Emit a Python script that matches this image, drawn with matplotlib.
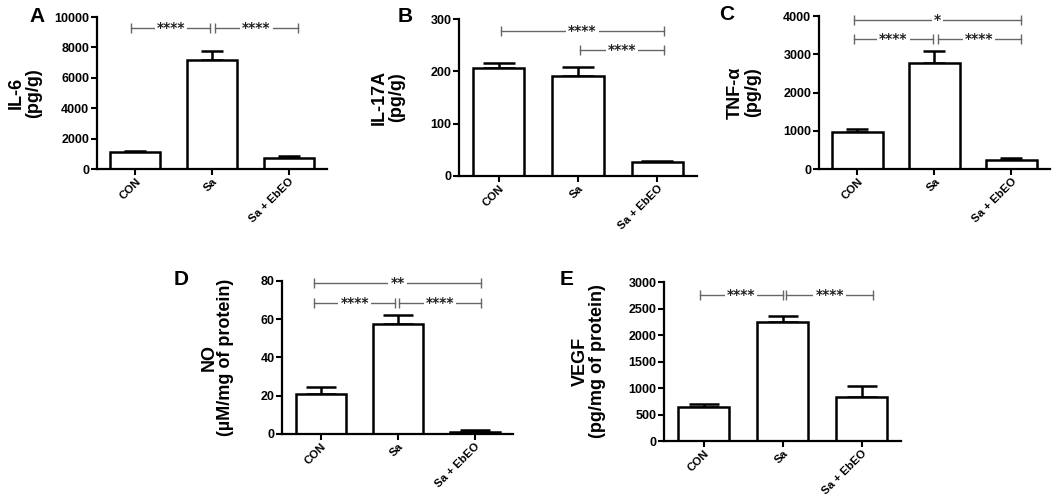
import numpy as np
import matplotlib
matplotlib.use("Agg")
import matplotlib.pyplot as plt

plt.rcParams['font.family'] = ['Liberation Sans', 'DejaVu Sans']
plt.rcParams['font.weight'] = 'bold'

groups = ["CON", "Sa", "Sa + EbEO"]

# panel data: mean and SEM
il6 = [1100, 7200, 750]
il6_err = [100, 550, 100]
il17 = [207, 191, 26]
il17_err = [9, 17, 3]
tnf = [980, 2780, 240]
tnf_err = [70, 300, 60]
no = [20.7, 57.5, 1.0]
no_err = [3.7, 4.5, 1.0]
vegf = [650, 2250, 830]
vegf_err = [40, 110, 210]

# significance brackets: (start, end, y, stars)
sig_a = [(-0.05, 0.98, 9250, "****"), (1.04, 2.12, 9250, "****")]
sig_b = [(0.03, 2.08, 277, "****"), (1.03, 2.08, 240, "****")]
sig_c = [(-0.05, 2.12, 3900, "*"), (-0.05, 0.98, 3400, "****"), (1.04, 2.12, 3400, "****")]
sig_d = [(-0.08, 2.08, 79, "**"), (-0.08, 0.97, 68.5, "****"), (1.02, 2.08, 68.5, "****")]
sig_e = [(-0.05, 1.0, 2750, "****"), (1.05, 2.14, 2750, "****")]

panels = [
    dict(letter="A", rect=[0.0922, 0.6613, 0.2186, 0.3046], vals=il6, err=il6_err,
         ylim=10000, step=2000, label="IL-6\n(pg/g)", lx=-0.313, sig=sig_a, cap=16,
         pos=(0.028, 0.985)),
    dict(letter="B", rect=[0.4363, 0.6473, 0.2262, 0.3146], vals=il17, err=il17_err,
         ylim=300, step=100, label="IL-17A\n(pg/g)", lx=-0.298, sig=sig_b, cap=23,
         pos=(0.378, 0.985)),
    dict(letter="C", rect=[0.7785, 0.6613, 0.2196, 0.3066], vals=tnf, err=tnf_err,
         ylim=4000, step=1000, label="TNF-α\n(pg/g)", lx=-0.325, sig=sig_c, cap=16,
         pos=(0.684, 0.99)),
    dict(letter="D", rect=[0.2681, 0.1303, 0.2196, 0.3066], vals=no, err=no_err,
         ylim=80, step=20, label="NO\n(µM/mg of protein)", lx=-0.28, sig=sig_d, cap=21,
         pos=(0.165, 0.458)),
    dict(letter="E", rect=[0.6312, 0.1162, 0.2253, 0.3186], vals=vegf, err=vegf_err,
         ylim=3000, step=500, label="VEGF\n(pg/mg of protein)", lx=-0.315, sig=sig_e, cap=21,
         pos=(0.532, 0.458)),
]

fig = plt.figure(figsize=(10.52, 4.99), dpi=100)

for p in panels:
    ax = fig.add_axes(p["rect"])
    x = np.arange(len(groups))
    vals = np.array(p["vals"])
    err = np.array(p["err"])
    ax.errorbar(x, vals, yerr=[np.zeros_like(err), err], fmt='none', ecolor='black',
                elinewidth=1.8, capsize=p["cap"] / 2, capthick=1.8, zorder=1)
    ax.bar(x, vals, width=0.65, color='white', edgecolor='black', linewidth=1.8, zorder=2)
    ax.set_xlim(-0.5, 2.5)
    ax.set_ylim(0, p["ylim"])
    ax.set_yticks(np.arange(0, p["ylim"] + 1, p["step"]))
    ax.set_xticks(x)
    ax.set_xticklabels(groups, rotation=45, ha='right', rotation_mode='anchor',
                       fontsize=8.2, fontweight='bold')
    for t in ax.get_yticklabels():
        t.set_fontsize(9)
        t.set_fontweight('bold')
    for s in ['top', 'right']:
        ax.spines[s].set_visible(False)
    for s in ['left', 'bottom']:
        ax.spines[s].set_linewidth(1.6)
    ax.tick_params(axis='both', width=1.5, length=4, pad=1.5)
    ax.text(p["lx"], 0.5, p["label"], transform=ax.transAxes, rotation=90,
            ha='center', va='center', multialignment='center', fontsize=13,
            fontweight='bold', linespacing=1.0)
    for x0, x1, yy, stars in p["sig"]:
        ax.plot([x0, x1], [yy, yy], color='#666666', lw=1.0, marker='|',
                markersize=7, markeredgewidth=1.0, clip_on=False, zorder=3)
        ax.annotate(stars, ((x0 + x1) / 2, yy), xytext=(0, 0), textcoords='offset points',
                    ha='center', va='center', fontsize=10, fontweight='bold',
                    family='DejaVu Sans', color='#222222', zorder=4, annotation_clip=False,
                    bbox=dict(boxstyle='square,pad=0.15', fc='white', ec='none'))
    fig.text(p["pos"][0], p["pos"][1], p["letter"], fontsize=15, fontweight='bold',
             ha='left', va='top')

fig.savefig("out.png", dpi=100)
